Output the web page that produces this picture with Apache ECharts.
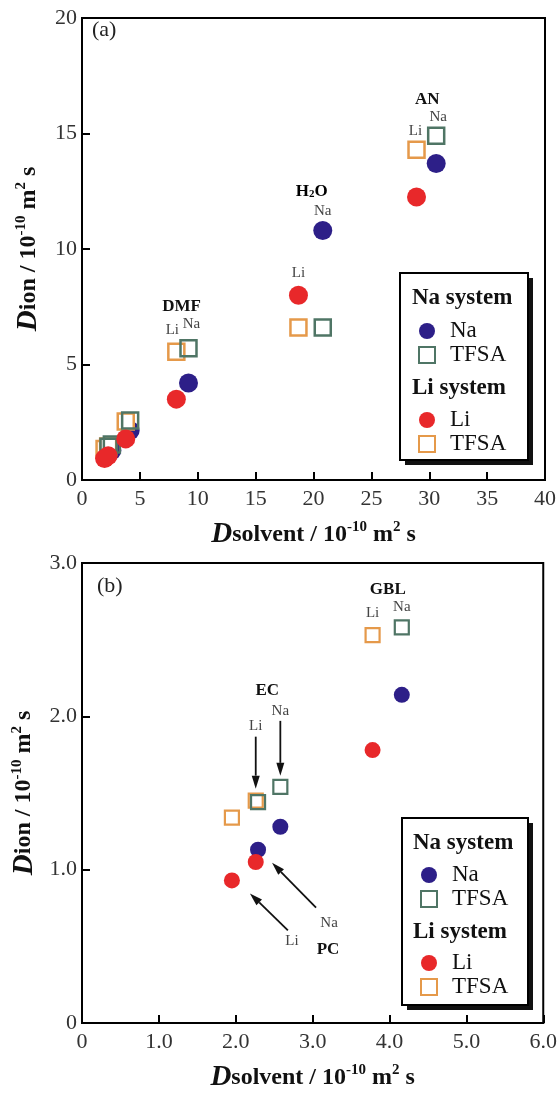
<!DOCTYPE html>
<html><head><meta charset="utf-8">
<script src="https://cdn.jsdelivr.net/npm/echarts@6/dist/echarts.min.js"></script>
<style>html,body{margin:0;padding:0;background:#fff}#c{width:560px;height:1093px}</style>
</head><body><div id="c"></div>
<script>
// ---- data ----
const solvents = ['PC', 'EC', 'GBL', 'DMF', 'H2O', 'AN'];
const naSolventD = [2.29, 2.58, 4.16, 9.2, 20.8, 30.6];
const naIonD     = [1.13, 1.28, 2.14, 4.2, 10.8, 13.7];
const naTfsaD    = [1.44, 1.54, 2.58, 5.7, 6.6, 14.9];
const liSolventD = [1.95, 2.26, 3.78, 8.15, 18.7, 28.9];
const liIonD     = [0.93, 1.05, 1.78, 3.5, 8.0, 12.25];
const liTfsaD    = [1.34, 1.45, 2.53, 5.55, 6.6, 14.3];
const xTickLabelsA = ['0', '5', '10', '15', '20', '25', '30', '35', '40'];
const yTickLabelsA = ['0', '5', '10', '15', '20'];
const xTickLabelsB = ['0', '1.0', '2.0', '3.0', '4.0', '5.0', '6.0'];
const yTickLabelsB = ['0', '1.0', '2.0', '3.0'];

// ---- style ----
const SERIF = "'Liberation Serif','Times New Roman',serif";
const NAVY = '#2d1f88', RED = '#e8282a', GREEN = '#4f7565', ORANGE = '#e5994a';
const chart = echarts.init(document.getElementById('c'));

const nameRich = {
  D: {fontFamily: SERIF, fontWeight: 'bold', fontStyle: 'italic', fontSize: 29, color: '#111'},
  t: {fontFamily: SERIF, fontWeight: 'bold', fontSize: 24, color: '#111'},
  sup: {fontFamily: SERIF, fontWeight: 'bold', fontSize: 15, color: '#111', verticalAlign: 'top'}
};
const xName = '{D|D}{t|solvent / 10}{sup|-10}{t| m}{sup|2}{t| s}';
const yName = '{D|D}{t|ion / 10}{sup|-10}{t| m}{sup|2}{t| s}';

function axisCommon(labels, interval, margin) {
  return {
    type: 'value', interval: interval,
    axisLine: {show: true, lineStyle: {color: '#000', width: 2}},
    axisTick: {show: true, inside: true, length: 8, lineStyle: {color: '#000', width: 2}},
    splitLine: {show: false},
    axisLabel: {fontFamily: SERIF, fontSize: 22, color: '#333', margin: margin,
      formatter: v => labels[Math.round(v / interval)]},
    nameLocation: 'middle', nameTextStyle: {rich: nameRich}
  };
}

function pts(xs, ys, xmax, ymax) {
  return xs.map((x, i) => [x, ys[i], solvents[i]]).filter(p => p[0] <= xmax && p[1] <= ymax);
}

function panelSeries(g, xmax, ymax, cs, ss, bw) {
  const base = {type: 'scatter', xAxisIndex: g, yAxisIndex: g, emphasis: {disabled: true}};
  return [
    Object.assign({}, base, {name: 'Na', symbol: 'circle', symbolSize: cs, z: 2,
      itemStyle: {color: NAVY, opacity: 1}, data: pts(naSolventD, naIonD, xmax, ymax)}),
    Object.assign({}, base, {name: 'TFSA (Li system)', symbol: 'rect', symbolSize: ss, z: 3,
      itemStyle: {color: '#fff', borderColor: ORANGE, borderWidth: bw, opacity: 1}, data: pts(liSolventD, liTfsaD, xmax, ymax)}),
    Object.assign({}, base, {name: 'TFSA (Na system)', symbol: 'rect', symbolSize: ss, z: 4,
      itemStyle: {color: 'rgba(255,255,255,0)', borderColor: GREEN, borderWidth: bw, opacity: 1}, data: pts(naSolventD, naTfsaD, xmax, ymax)}),
    Object.assign({}, base, {name: 'Li', symbol: 'circle', symbolSize: cs, z: 5,
      itemStyle: {color: RED, opacity: 1}, data: pts(liSolventD, liIonD, xmax, ymax)})
  ];
}

function legendBlock(names, top, left) {
  return {
    orient: 'vertical', left: left, top: top, itemWidth: 16, itemHeight: 16, itemGap: 0,
    selectedMode: false, z: 6,
    data: names.map(n => n.indexOf('TFSA') === 0
      ? {name: n, itemStyle: {borderWidth: 2}, icon: 'path://M2,2L14,2L14,14L2,14Z'}
      : {name: n, icon: 'circle'}),
    formatter: n => n.indexOf('TFSA') === 0 ? 'TFSA' : n,
    textStyle: {fontFamily: SERIF, fontSize: 23, color: '#111', lineHeight: 24, padding: [0, 0, 0, 10]}
  };
}

const option = {
  animation: false,
  backgroundColor: '#fff',
  grid: [
    {left: 82, top: 18, width: 463, height: 462, show: true, borderColor: '#000', borderWidth: 2, backgroundColor: 'transparent'},
    {left: 82, top: 563, width: 463, height: 462, show: true, borderColor: '#000', borderWidth: 2, backgroundColor: 'transparent'}
  ],
  xAxis: [
    Object.assign(axisCommon(xTickLabelsA, 5, 8), {gridIndex: 0, min: 0, max: 40, name: xName, nameGap: 40}),
    Object.assign(axisCommon(xTickLabelsB, 1, 8), {gridIndex: 1, min: 0, max: 6, name: xName, nameGap: 40})
  ],
  yAxis: [
    Object.assign(axisCommon(yTickLabelsA, 5, 5), {gridIndex: 0, min: 0, max: 20, name: yName, nameGap: 39}),
    Object.assign(axisCommon(yTickLabelsB, 1, 5), {gridIndex: 1, min: 0, max: 3, name: yName, nameGap: 39})
  ],
  legend: [
    legendBlock(['Na', 'TFSA (Na system)'], 314, 413),
    legendBlock(['Li', 'TFSA (Li system)'], 403, 413),
    legendBlock(['Na', 'TFSA (Na system)'], 858, 415),
    legendBlock(['Li', 'TFSA (Li system)'], 946, 415)
  ],
  series: [].concat(panelSeries(0, 40, 20, 19, 16, 2.5), panelSeries(1, 6, 3, 16, 14, 2.2))
};
chart.setOption(option);

// ---- annotations placed relative to data points ----
const G = [];
function px(g, x, y) { return chart.convertToPixel({gridIndex: g}, [x, y]); }
function txt(p, dx, dy, text, size, bold, color) {
  G.push({type: 'text', z: 10, style: {text: text, x: p[0] + dx, y: p[1] + dy,
    font: (bold ? 'bold ' : '') + size + 'px ' + SERIF, fill: color || '#444',
    textAlign: 'center', textVerticalAlign: 'middle'}});
}
function richTxt(p, dx, dy, text, rich) {
  G.push({type: 'text', z: 10, style: {text: text, x: p[0] + dx, y: p[1] + dy, rich: rich,
    textAlign: 'center', textVerticalAlign: 'middle'}});
}
function arrow(p, dx1, dy1, dx2, dy2) {
  const x1 = p[0] + dx1, y1 = p[1] + dy1, x2 = p[0] + dx2, y2 = p[1] + dy2;
  const a = Math.atan2(y2 - y1, x2 - x1), L = 13, W = 4;
  const bx = x2 - L * Math.cos(a), by = y2 - L * Math.sin(a);
  const qx = -Math.sin(a), qy = Math.cos(a);
  G.push({type: 'line', z: 10, shape: {x1: x1, y1: y1, x2: bx, y2: by}, style: {stroke: '#111', lineWidth: 1.8}});
  G.push({type: 'polygon', z: 10, shape: {points: [[x2, y2], [bx + W * qx, by + W * qy], [bx - W * qx, by - W * qy]]}, style: {fill: '#111'}});
}
const iAN = solvents.indexOf('AN'), iH2O = solvents.indexOf('H2O'), iDMF = solvents.indexOf('DMF');
const iGBL = solvents.indexOf('GBL'), iEC = solvents.indexOf('EC'), iPC = solvents.indexOf('PC');
const sub = {b: {fontFamily: SERIF, fontWeight: 'bold', fontSize: 17, color: '#111'},
             s: {fontFamily: SERIF, fontWeight: 'bold', fontSize: 11, color: '#111', verticalAlign: 'bottom'}};

// panel (a)
let p = px(0, naSolventD[iAN], naTfsaD[iAN]);
txt(p, 2, -19, 'Na', 15); txt(p, -9, -36, 'AN', 17, true, '#111');
p = px(0, liSolventD[iAN], liTfsaD[iAN]); txt(p, -1, -19, 'Li', 15);
p = px(0, naSolventD[iH2O], naIonD[iH2O]);
txt(p, 0, -19, 'Na', 15); richTxt(p, -11, -39, '{b|H}{s|2}{b|O}', sub);
p = px(0, liSolventD[iH2O], liIonD[iH2O]); txt(p, 0, -22, 'Li', 15);
p = px(0, liSolventD[iDMF], liTfsaD[iDMF]); txt(p, -4, -22, 'Li', 15);
p = px(0, naSolventD[iDMF], naTfsaD[iDMF]);
txt(p, 3, -24, 'Na', 15); txt(p, -7, -42, 'DMF', 17, true, '#111');
// panel (b)
p = px(1, liSolventD[iGBL], liTfsaD[iGBL]); txt(p, 0, -22, 'Li', 15);
p = px(1, naSolventD[iGBL], naTfsaD[iGBL]);
txt(p, 0, -20, 'Na', 15); txt(p, -14, -38, 'GBL', 17, true, '#111');
p = px(1, liSolventD[iEC], liTfsaD[iEC]);
txt(p, 0, -75, 'Li', 15); arrow(p, 0, -64, 0, -12);
p = px(1, naSolventD[iEC], naTfsaD[iEC]);
txt(p, 0, -76, 'Na', 15); arrow(p, 0, -66, 0, -11); txt(p, -13, -96, 'EC', 17, true, '#111');
p = px(1, naSolventD[iPC], naIonD[iPC]);
arrow(p, 58, 58, 14, 13); txt(p, 71, 73, 'Na', 15); txt(p, 70, 100, 'PC', 17, true, '#111');
p = px(1, liSolventD[iPC], liIonD[iPC]);
arrow(p, 56, 50, 18, 13); txt(p, 60, 61, 'Li', 15);

// panel tags
G.push({type: 'text', z: 10, style: {text: '(a)', x: 92, y: 30, font: '22px ' + SERIF, fill: '#222', textVerticalAlign: 'middle'}});
G.push({type: 'text', z: 10, style: {text: '(b)', x: 97, y: 586, font: '22px ' + SERIF, fill: '#222', textVerticalAlign: 'middle'}});

// legend frames and headers
function frame(x, y, w, h) {
  G.push({type: 'rect', z: 4, shape: {x: x + 5, y: y + 5, width: w, height: h}, style: {fill: '#111'}});
  G.push({type: 'rect', z: 4, shape: {x: x, y: y, width: w, height: h}, style: {fill: '#fff', stroke: '#000', lineWidth: 2}});
}
function header(x, y, t) {
  G.push({type: 'text', z: 10, style: {text: t, x: x, y: y, font: 'bold 23px ' + SERIF, fill: '#111', textVerticalAlign: 'middle'}});
}
frame(400, 273, 128, 187); header(412, 298, 'Na system'); header(412, 388, 'Li system');
frame(402, 818, 126, 187); header(413, 843, 'Na system'); header(413, 932, 'Li system');

chart.setOption({graphic: G});
</script></body></html>
